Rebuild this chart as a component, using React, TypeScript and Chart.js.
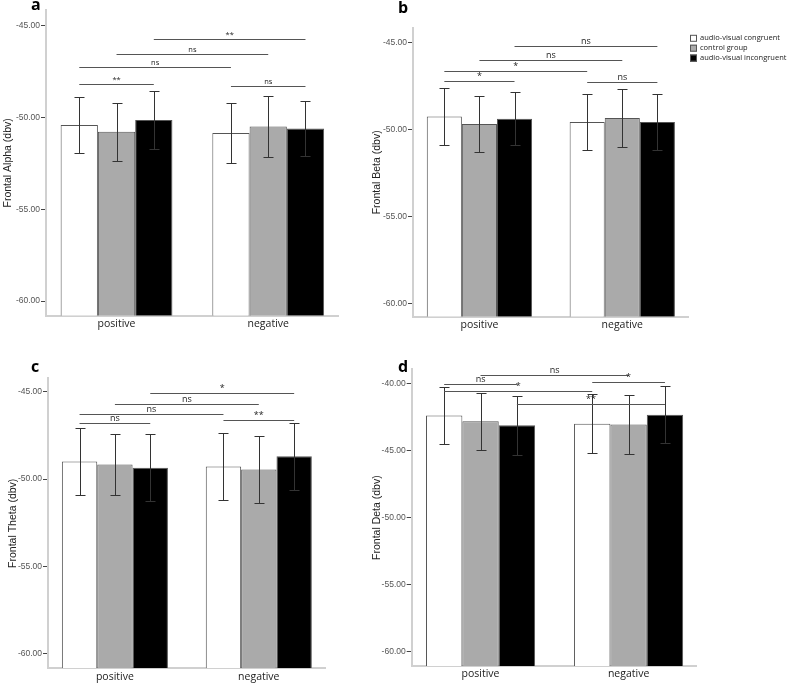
import React, { useEffect, useRef } from 'react';
import { Chart, registerables } from 'chart.js';

Chart.register(...registerables);

// ---------- data ----------
const categories = ['positive', 'negative'];
const seriesNames = ['audio-visual congruent', 'control group', 'audio-visual incongruent'];

// a: Frontal Alpha
const alphaCongruent = [-50.41, -50.85];
const alphaControl = [-50.78, -50.5];
const alphaIncongruent = [-50.14, -50.61];
const alphaCongruentErr = [1.54, 1.65];
const alphaControlErr = [1.59, 1.65];
const alphaIncongruentErr = [1.59, 1.5];
const alphaTicks = [-60, -55, -50, -45];
const alphaSig: [number, number, number, number, number, string][] = [
  [0, 2, 1, 2, -45.72, '**'],
  [0, 1, 1, 1, -46.54, 'ns'],
  [0, 0, 1, 0, -47.28, 'ns'],
  [0, 0, 0, 2, -48.17, '**'],
  [1, 0, 1, 2, -48.29, 'ns'],
];

// b: Frontal Beta
const betaCongruent = [-49.24, -49.56];
const betaControl = [-49.67, -49.33];
const betaIncongruent = [-49.38, -49.56];
const betaCongruentErr = [1.66, 1.62];
const betaControlErr = [1.62, 1.69];
const betaIncongruentErr = [1.52, 1.63];
const betaTicks = [-60, -55, -50, -45];
const betaSig: [number, number, number, number, number, string][] = [
  [0, 2, 1, 2, -45.21, 'ns'],
  [0, 1, 1, 1, -46.01, 'ns'],
  [0, 0, 1, 0, -46.63, '*'],
  [0, 0, 0, 2, -47.18, '*'],
  [1, 0, 1, 2, -47.28, 'ns'],
];

// c: Frontal Theta
const thetaCongruent = [-48.99, -49.28];
const thetaControl = [-49.17, -49.45];
const thetaIncongruent = [-49.35, -48.69];
const thetaCongruentErr = [1.92, 1.92];
const thetaControlErr = [1.76, 1.92];
const thetaIncongruentErr = [1.92, 1.92];
const thetaTicks = [-60, -55, -50, -45];
const thetaSig: [number, number, number, number, number, string][] = [
  [0, 2, 1, 2, -45.09, '*'],
  [0, 1, 1, 1, -45.7, 'ns'],
  [0, 0, 1, 0, -46.27, 'ns'],
  [0, 0, 0, 2, -46.79, 'ns'],
  [1, 0, 1, 2, -46.62, '**'],
];

// d: Frontal Deta
const deltaCongruent = [-42.41, -43.01];
const deltaControl = [-42.83, -43.08];
const deltaIncongruent = [-43.13, -42.34];
const deltaCongruentErr = [2.13, 2.18];
const deltaControlErr = [2.12, 2.19];
const deltaIncongruentErr = [2.2, 2.12];
const deltaTicks = [-60, -55, -50, -45, -40];
const deltaSig: [number, number, number, number, number, string][] = [
  [0, 1, 1, 1, -39.38, 'ns'],
  [1, 0, 1, 2, -39.88, '*'],
  [0, 0, 0, 2, -40.05, 'ns'],
  [0, 0, 1, 0, -40.6, '*'],
  [0, 2, 1, 2, -41.54, '**'],
];

// ---------- layout / style ----------
const fills = ['#ffffff', '#aaaaaa', '#000000'];

type Panel = {
  key: string;
  letter: string;
  title: string;
  box: { left: number; top: number; w: number; h: number };
  area: { l: number; t: number; r: number; b: number };
  yMin: number;
  yMax: number;
  yTicks: number[];
  values: number[][];
  errors: number[][];
  sig: [number, number, number, number, number, string][];
  letterPos: [number, number];
  titlePad: number;
  sigFont: number;
  legend?: { x: number; y: number; gap: number };
};

const panels: Panel[] = [
  {
    key: 'a', letter: 'a', title: 'Frontal Alpha (dbv)',
    box: { left: 0, top: 0, w: 360, h: 340 },
    area: { l: 46, t: 10, r: 338, b: 315.7 },
    yMin: -60.8, yMax: -44.15, yTicks: alphaTicks,
    values: [alphaCongruent, alphaControl, alphaIncongruent],
    errors: [alphaCongruentErr, alphaControlErr, alphaIncongruentErr],
    sig: alphaSig, letterPos: [31, 9.5], titlePad: 1.5, sigFont: 7.5,
  },
  {
    key: 'b', letter: 'b', title: 'Frontal Beta (dbv)',
    box: { left: 360, top: 0, w: 440, h: 340 },
    area: { l: 53, t: 28, r: 328, b: 316.7 },
    yMin: -60.77, yMax: -44.15, yTicks: betaTicks,
    values: [betaCongruent, betaControl, betaIncongruent],
    errors: [betaCongruentErr, betaControlErr, betaIncongruentErr],
    sig: betaSig, letterPos: [38, 12.5], titlePad: 10.5, sigFont: 9,
    legend: { x: 330, y: 38.3, gap: 9.9 },
  },
  {
    key: 'c', letter: 'c', title: 'Frontal Theta (dbv)',
    box: { left: 0, top: 340, w: 360, h: 348 },
    area: { l: 48, t: 38.3, r: 325, b: 328.3 },
    yMin: -60.82, yMax: -44.24, yTicks: thetaTicks,
    values: [thetaCongruent, thetaControl, thetaIncongruent],
    errors: [thetaCongruentErr, thetaControlErr, thetaIncongruentErr],
    sig: thetaSig, letterPos: [31, 31.7], titlePad: 6.5, sigFont: 9,
  },
  {
    key: 'd', letter: 'd', title: 'Frontal Deta (dbv)',
    box: { left: 360, top: 340, w: 440, h: 348 },
    area: { l: 51.7, t: 29.3, r: 336.7, b: 326 },
    yMin: -61.06, yMax: -38.96, yTicks: deltaTicks,
    values: [deltaCongruent, deltaControl, deltaIncongruent],
    errors: [deltaCongruentErr, deltaControlErr, deltaIncongruentErr],
    sig: deltaSig, letterPos: [38, 31.7], titlePad: 10.5, sigFont: 9,
  },
];

function makeConfig(p: Panel): any {
  const overlay = {
    id: 'overlay' + p.key,
    afterDatasetsDraw(chart: any) {
      const ctx = chart.ctx;
      const ys = chart.scales.y;
      ctx.save();
      // error bars
      ctx.strokeStyle = '#333';
      ctx.lineWidth = 1;
      p.values.forEach((vals, di) => {
        const meta = chart.getDatasetMeta(di);
        vals.forEach((v, i) => {
          const el = meta.data[i];
          const e = p.errors[di][i];
          const x = Math.round(el.x) + 0.5;
          const yTop = Math.round(ys.getPixelForValue(v + e)) + 0.5;
          const yBot = Math.round(ys.getPixelForValue(v - e)) + 0.5;
          ctx.beginPath();
          ctx.moveTo(x, yTop);
          ctx.lineTo(x, yBot);
          ctx.moveTo(x - 5, yTop);
          ctx.lineTo(x + 5, yTop);
          ctx.moveTo(x - 5, yBot);
          ctx.lineTo(x + 5, yBot);
          ctx.stroke();
        });
      });
      // significance lines
      ctx.strokeStyle = '#555';
      ctx.fillStyle = '#222';
      ctx.font = `${p.sigFont}px "Open Sans"`;
      ctx.textAlign = 'center';
      ctx.textBaseline = 'bottom';
      p.sig.forEach(([c1, s1, c2, s2, yv, label]) => {
        const x1 = chart.getDatasetMeta(s1).data[c1].x;
        const x2 = chart.getDatasetMeta(s2).data[c2].x;
        const y = Math.round(ys.getPixelForValue(yv)) + 0.5;
        ctx.beginPath();
        ctx.moveTo(x1, y);
        ctx.lineTo(x2, y);
        ctx.stroke();
        ctx.fillText(label, (x1 + x2) / 2, y - 1);
      });
      ctx.restore();
    },
    afterDraw(chart: any) {
      const ctx = chart.ctx;
      ctx.save();
      ctx.fillStyle = '#000';
      ctx.font = 'bold 16px "Open Sans"';
      ctx.textAlign = 'left';
      ctx.textBaseline = 'alphabetic';
      ctx.fillText(p.letter, p.letterPos[0], p.letterPos[1]);
      if (p.legend) {
        const lg = p.legend;
        ctx.font = '7.5px "Open Sans"';
        ctx.textBaseline = 'middle';
        seriesNames.forEach((name, i) => {
          const cy = lg.y + i * lg.gap;
          ctx.fillStyle = fills[i];
          ctx.fillRect(lg.x, cy - 3.5, 7, 7);
          ctx.strokeStyle = '#555';
          ctx.lineWidth = 1;
          ctx.strokeRect(lg.x + 0.5, cy - 3.5 + 0.5, 6, 6);
          ctx.fillStyle = '#222';
          ctx.fillText(name, lg.x + 10, cy);
        });
      }
      ctx.restore();
    },
  };

  return {
    type: 'bar',
    data: {
      datasets: p.values.map((vals, di) => ({
        label: seriesNames[di],
        data: vals.map((v, i) => ({ x: i, y: v })),
        backgroundColor: fills[di],
        borderColor: '#555',
        borderWidth: 1,
        base: p.yMin,
        categoryPercentage: 0.737,
        barPercentage: 1,
      })),
    },
    options: {
      responsive: false,
      animation: false,
      devicePixelRatio: 1,
      layout: {
        padding: { left: 0, top: p.area.t, right: p.box.w - p.area.r, bottom: 0 },
      },
      plugins: { legend: { display: false }, tooltip: { enabled: false } },
      scales: {
        x: {
          type: 'linear',
          offset: false,
          min: -0.465,
          max: 1.46,
          afterBuildTicks: (s: any) => {
            s.ticks = categories.map((_, i) => ({ value: i }));
          },
          afterFit: (s: any) => {
            s.height = p.box.h - p.area.b;
          },
          ticks: {
            callback: (v: any) => categories[v] ?? '',
            font: { family: '"Open Sans"', size: 10.5 },
            color: '#222',
            padding: 2,
            maxRotation: 0,
            autoSkip: false,
          },
          grid: { display: false, drawTicks: false, offset: false, tickLength: 0 },
          border: { display: true, color: '#d0d0d0', width: 2 },
        },
        y: {
          type: 'linear',
          min: p.yMin,
          max: p.yMax,
          afterBuildTicks: (s: any) => {
            s.ticks = p.yTicks.map((v) => ({ value: v }));
          },
          afterFit: (s: any) => {
            s.width = p.area.l;
          },
          ticks: {
            callback: (v: any) => Number(v).toFixed(2),
            font: { family: '"Liberation Sans"', size: 8.5 },
            color: '#555',
            padding: 1,
          },
          grid: {
            drawOnChartArea: false,
            drawTicks: true,
            tickLength: 5,
            color: '#444',
            tickColor: '#444',
          },
          border: { display: true, color: '#d0d0d0', width: 2 },
          title: {
            display: true,
            text: p.title,
            font: { family: '"Liberation Sans"', size: 10.5 },
            color: '#222',
            padding: { top: p.titlePad, bottom: 0 },
          },
        },
      },
    },
    plugins: [overlay],
  };
}

function PanelChart({ p }: { p: Panel }) {
  const ref = useRef<HTMLCanvasElement | null>(null);
  useEffect(() => {
    if (!ref.current) return;
    const chart = new Chart(ref.current, makeConfig(p));
    return () => chart.destroy();
  }, [p]);
  return (
    <canvas
      ref={ref}
      width={p.box.w}
      height={p.box.h}
      style={{
        position: 'absolute',
        left: p.box.left,
        top: p.box.top,
        width: p.box.w,
        height: p.box.h,
      }}
    />
  );
}

export default function App() {
  return (
    <div
      style={{
        position: 'absolute',
        left: 0,
        top: 0,
        width: 800,
        height: 688,
        background: '#ffffff',
        overflow: 'hidden',
      }}
    >
      {panels.map((p) => (
        <PanelChart key={p.key} p={p} />
      ))}
    </div>
  );
}
